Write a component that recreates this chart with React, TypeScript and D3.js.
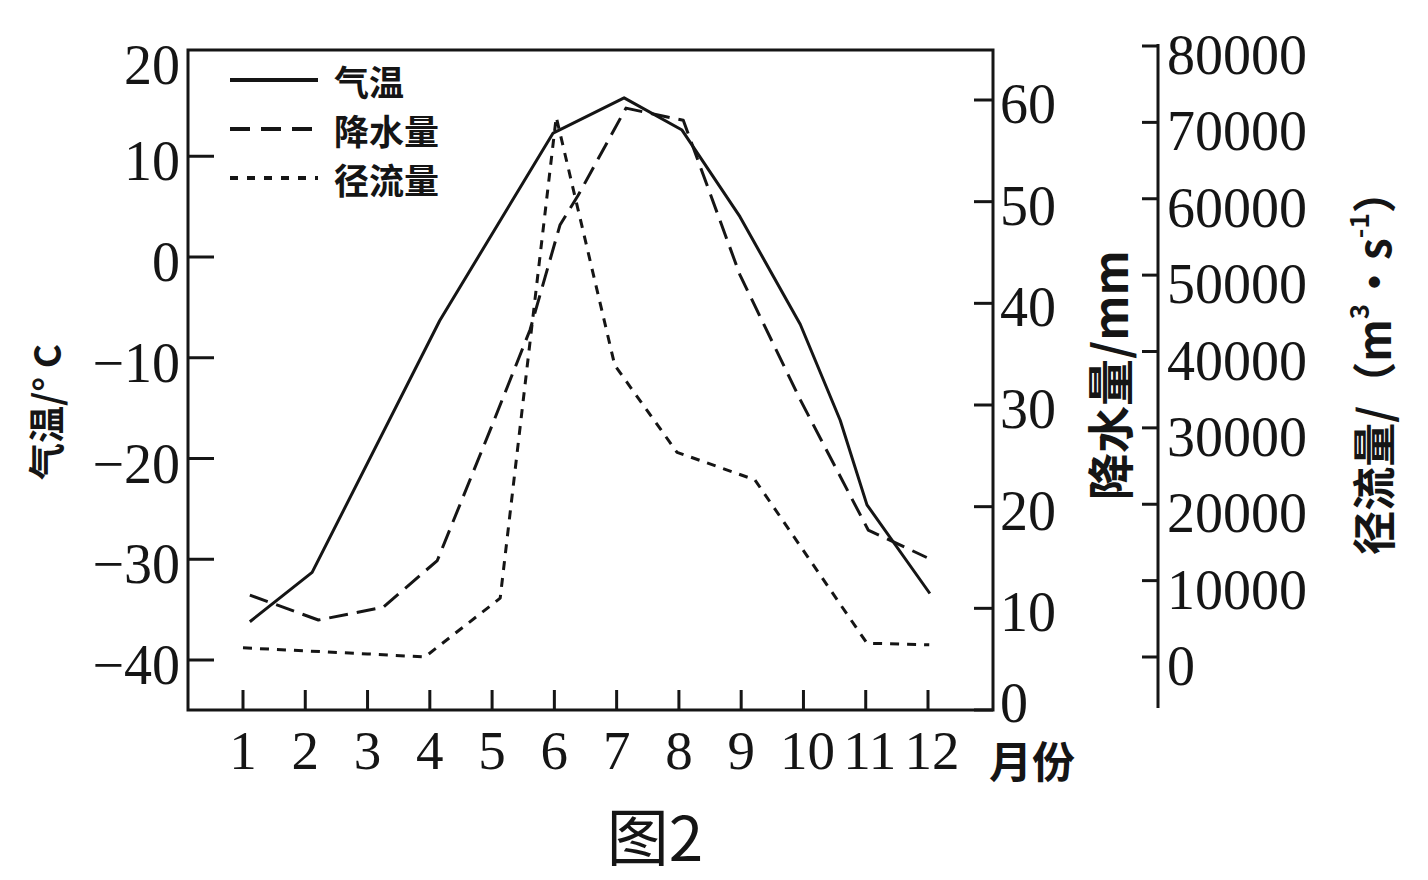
import React from 'react';
import * as d3 from 'd3';

// ---- data ----
const months = [1, 2, 3, 4, 5, 6, 7, 8, 9, 10, 11, 12];
const tempTicks = [20, 10, 0, -10, -20, -30, -40];
const precipTicks = [0, 10, 20, 30, 40, 50, 60];
const runoffTicks = [0, 10000, 20000, 30000, 40000, 50000, 60000, 70000, 80000];

// temperature (°C), hand-drawn vertices (month position, value)
const tempMonths = [1.11, 2.11, 4.16, 5.98, 7.12, 8.05, 8.98, 9.95, 10.59, 11.02, 12.03];
const tempValues = [-36.2, -31.3, -6.3, 12.3, 15.8, 12.6, 4.0, -6.7, -16.2, -24.6, -33.4];

// precipitation (mm)
const precipMonths = [1.11, 2.21, 3.25, 4.12, 4.98, 5.61, 6.09, 6.38, 7.15, 8.07, 8.98, 9.95, 11.04, 11.98];
const precipValues = [11.3, 8.85, 10.1, 14.7, 27.7, 37.4, 47.7, 50.6, 59.2, 58.0, 42.8, 30.5, 17.7, 15.0];

// runoff (m3/s)
const runoffMonths = [1, 2, 3, 3.92, 5.13, 6.03, 6.97, 7.97, 9.22, 11.02, 12.02];
const runoffValues = [1200, 800, 400, 0, 7700, 70700, 38200, 26800, 23200, 1800, 1600];

const legendItems = ['气温', '降水量', '径流量'];

// ---- layout ----
const W = 1428;
const H = 880;
const box = { left: 188, right: 993, top: 50, bottom: 710 };
const runoffAxisX = 1158;

const serif = '"Liberation Serif", "DejaVu Serif", serif';
const cjk = '"Noto Sans CJK SC", "Noto Sans", sans-serif';
const ink = '#151515';

const x = d3.scaleLinear().domain([1, 12]).range([243, 928]);
const yT = d3.scaleLinear().domain([-40, 20]).range([660, 55.5]);
const yP = d3.scaleLinear().domain([0, 60]).range([710, 100]);
const yR = d3.scaleLinear().domain([0, 80000]).range([657, 46]);

const fmtT = (v: number) => (v < 0 ? '−' + Math.abs(v) : String(v));

export default function App() {
  const tempLine = d3
    .line<number>()
    .x((_, i) => x(tempMonths[i]))
    .y((d) => yT(d));
  const precipLine = d3
    .line<number>()
    .x((_, i) => x(precipMonths[i]))
    .y((d) => yP(d));
  const runoffLine = d3
    .line<number>()
    .x((_, i) => x(runoffMonths[i]))
    .y((d) => yR(d));

  const dashes = ['none', '19 9', '9 8'];
  const legendDashes = ['none', '20 11', '8 9'];

  return (
    <svg
      width={W}
      height={H}
      style={{ position: 'absolute', left: 0, top: 0, background: '#fff' }}
    >
      <rect x={0} y={0} width={W} height={H} fill="#fff" />

      {/* frame */}
      <rect
        x={box.left}
        y={box.top}
        width={box.right - box.left}
        height={box.bottom - box.top}
        fill="none"
        stroke={ink}
        strokeWidth={3}
      />

      {/* left temperature ticks */}
      {tempTicks.map((t) => (
        <g key={'t' + t}>
          {t !== 20 && (
            <line x1={box.left} x2={box.left + 26} y1={yT(t)} y2={yT(t)} stroke={ink} strokeWidth={3} />
          )}
          <text
            x={180}
            y={yT(t) + (t === 20 ? 9 : 5)}
            textAnchor="end"
            dominantBaseline="central"
            fontFamily={serif}
            fontSize={56}
            fill={ink}
          >
            {fmtT(t)}
          </text>
        </g>
      ))}

      {/* right precipitation ticks */}
      {precipTicks.map((p) => (
        <g key={'p' + p}>
          <line x1={box.right - 19} x2={box.right} y1={yP(p)} y2={yP(p)} stroke={ink} strokeWidth={3} />
          <text
            x={1000}
            y={yP(p) + (p === 0 ? -7 : 4)}
            textAnchor="start"
            dominantBaseline="central"
            fontFamily={serif}
            fontSize={56}
            fill={ink}
          >
            {p}
          </text>
        </g>
      ))}

      {/* runoff axis */}
      <line x1={runoffAxisX} x2={runoffAxisX} y1={44} y2={708} stroke={ink} strokeWidth={3} />
      {runoffTicks.map((r) => (
        <g key={'r' + r}>
          <line x1={runoffAxisX - 16} x2={runoffAxisX} y1={yR(r)} y2={yR(r)} stroke={ink} strokeWidth={3} />
          <text
            x={1167}
            y={yR(r) + 9}
            textAnchor="start"
            dominantBaseline="central"
            fontFamily={serif}
            fontSize={56}
            fill={ink}
          >
            {r}
          </text>
        </g>
      ))}

      {/* month ticks */}
      {months.map((m) => (
        <g key={'m' + m}>
          <line x1={x(m)} x2={x(m)} y1={box.bottom} y2={box.bottom - 20} stroke={ink} strokeWidth={3} />
          <text
            x={x(m) + (m >= 10 ? 4 : 0)}
            y={750}
            textAnchor="middle"
            dominantBaseline="central"
            fontFamily={serif}
            fontSize={55}
            fill={ink}
          >
            {m}
          </text>
        </g>
      ))}

      {/* series */}
      <path d={tempLine(tempValues) || ''} fill="none" stroke={ink} strokeWidth={3} strokeLinejoin="round" />
      <path
        d={precipLine(precipValues) || ''}
        fill="none"
        stroke={ink}
        strokeWidth={3}
        strokeDasharray={dashes[1]}
        strokeLinejoin="round"
      />
      <path
        d={runoffLine(runoffValues) || ''}
        fill="none"
        stroke={ink}
        strokeWidth={3}
        strokeDasharray={dashes[2]}
        strokeLinejoin="round"
      />

      {/* legend */}
      {legendItems.map((name, i) => (
        <g key={name} transform={`translate(0, ${80 + i * 49})`}>
          <line x1={230} x2={318} y1={0} y2={0} stroke={ink} strokeWidth={4} strokeDasharray={legendDashes[i]} />
          <text
            x={334}
            y={0}
            dominantBaseline="central"
            fontFamily={cjk}
            fontWeight={700}
            fontSize={35}
            fill={ink}
          >
            {name}
          </text>
        </g>
      ))}

      {/* axis titles */}
      <text
        transform="translate(45, 412) rotate(-90)"
        textAnchor="middle"
        dominantBaseline="central"
        fontFamily={cjk}
        fontWeight={700}
        fontSize={37}
        fill={ink}
      >
        气温/° C
      </text>
      <text
        transform="translate(1107, 375) rotate(-90)"
        textAnchor="middle"
        dominantBaseline="central"
        fontFamily={cjk}
        fontWeight={700}
        fontSize={47}
        fill={ink}
      >
        降水量/mm
      </text>
      <text
        transform="translate(1372, 362) rotate(-90)"
        textAnchor="middle"
        dominantBaseline="central"
        fontFamily={cjk}
        fontWeight={700}
        fontSize={44}
        fill={ink}
      >
        径流量/（m
        <tspan fontSize={26} dy={-15}>3</tspan>
        <tspan dy={15}>·s</tspan>
        <tspan fontSize={26} dy={-15}>-1</tspan>
        <tspan dy={15}>）</tspan>
      </text>

      <text
        x={1032}
        y={759}
        textAnchor="middle"
        dominantBaseline="central"
        fontFamily={cjk}
        fontWeight={700}
        fontSize={43}
        fill={ink}
      >
        月份
      </text>

      <text
        x={655}
        y={834}
        textAnchor="middle"
        dominantBaseline="central"
        fontFamily={cjk}
        fontSize={62}
        fill={ink}
      >
        图2
      </text>
    </svg>
  );
}
